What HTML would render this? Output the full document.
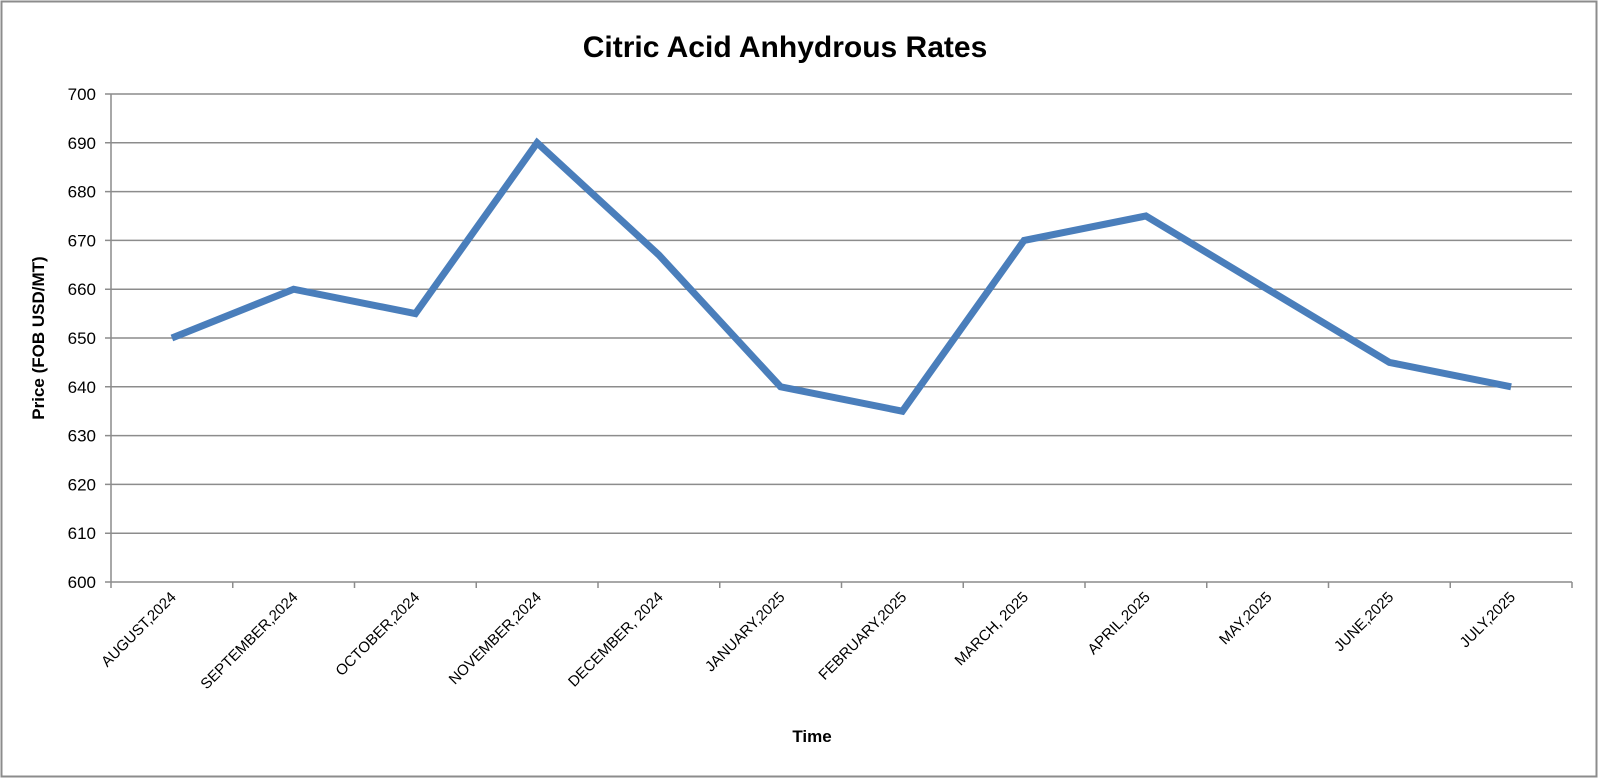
<!DOCTYPE html>
<html><head><meta charset="utf-8"><style>
html,body{margin:0;padding:0;background:#fff;}
svg{display:block;font-family:"Liberation Sans",sans-serif;}
</style></head><body>
<svg id="chart" width="1600" height="779" viewBox="0 0 1600 779">
<rect x="1.5" y="1.5" width="1595" height="775" fill="#fff" stroke="#8c8c8c" stroke-width="2"/>
<text x="785" y="57" text-anchor="middle" font-size="30" font-weight="bold" fill="#000">Citric Acid Anhydrous Rates</text>
<g id="grid"></g>
<g id="yticks"></g>
<g id="xticks"></g>
<path id="series" fill="none" stroke="#4a7ebb" stroke-width="7" stroke-linejoin="miter"/>
<text x="812" y="742" text-anchor="middle" font-size="17" font-weight="bold" fill="#000">Time</text>
<text transform="translate(44,338) rotate(-90)" text-anchor="middle" font-size="17" font-weight="bold" fill="#000">Price (FOB USD/MT)</text>
</svg>
<script>
const categories = ["AUGUST,2024","SEPTEMBER,2024","OCTOBER,2024","NOVEMBER,2024","DECEMBER, 2024","JANUARY,2025","FEBRUARY,2025","MARCH, 2025","APRIL,2025","MAY,2025","JUNE,2025","JULY,2025"];
const prices = [650,660,655,690,667,640,635,670,675,660,645,640];
const yTicks = [600,610,620,630,640,650,660,670,680,690,700];

const NS="http://www.w3.org/2000/svg";
const L=111,R=1572,T=94,B=582,yMin=600,yMax=700;
const step=(R-L)/categories.length;
function xPos(i){return L+step*(i+0.5);}
function yPos(v){return B-(v-yMin)/(yMax-yMin)*(B-T);}
function mk(tag,attrs,parent){const e=document.createElementNS(NS,tag);for(const k in attrs)e.setAttribute(k,attrs[k]);parent.appendChild(e);return e;}

const grid=document.getElementById('grid'),yt=document.getElementById('yticks'),xt=document.getElementById('xticks');
yTicks.forEach(v=>{
  const y=yPos(v);
  const ln=mk('line',{x1:L-6,x2:R,y1:y,y2:y,stroke:'#8c8c8c','stroke-width':1.5},grid);
  
  
  const t=mk('text',{x:L-15,y:y+6,'text-anchor':'end','font-size':17,fill:'#000'},yt);
  t.textContent=v;
  
  
});
const ax=mk('line',{x1:L,x2:L,y1:T,y2:B,stroke:'#8c8c8c','stroke-width':1.5},grid);


for(let i=0;i<=categories.length;i++){
  const x=L+step*i;
  const tk=mk('line',{x1:x,x2:x,y1:B,y2:B+6,stroke:'#8c8c8c','stroke-width':1.5},xt);
  
  
}
categories.forEach((c,i)=>{
  const x=xPos(i)+5,y=B+16;
  const t=mk('text',{x:x,y:y,'text-anchor':'end','font-size':15,fill:'#000',transform:`rotate(-45 ${x} ${y})`},xt);
  t.textContent=c;
  
  
});
document.getElementById('series').setAttribute('d',prices.map((v,i)=>(i?'L':'M')+xPos(i).toFixed(1)+' '+yPos(v).toFixed(1)).join(' '));
</script>
</body></html>
